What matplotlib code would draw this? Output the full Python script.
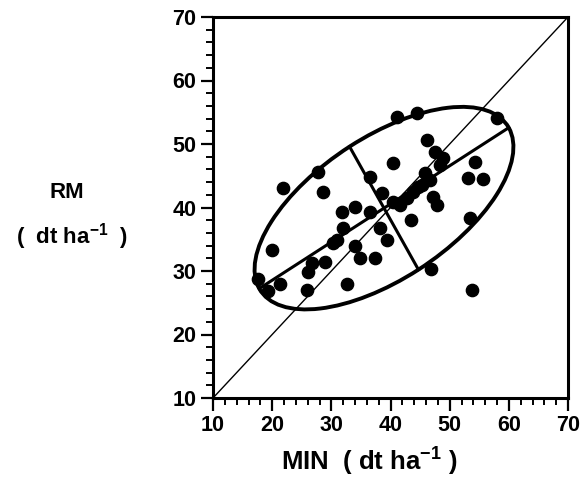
import numpy as np
import matplotlib.pyplot as plt
from matplotlib.patches import Ellipse

plt.rcParams['font.family'] = ['Liberation Sans', 'DejaVu Sans']
plt.rcParams['font.weight'] = 'bold'
plt.rcParams['mathtext.fontset'] = 'custom'
plt.rcParams['mathtext.bf'] = 'Liberation Sans:bold'
plt.rcParams['mathtext.rm'] = 'Liberation Sans:bold'
plt.rcParams['mathtext.default'] = 'bf'

# MIN vs RM yields (dt/ha)
minYield = [41.1, 44.5, 58.0, 46.2, 47.5, 48.9, 40.4, 54.3, 53.1, 55.6,
            27.7, 21.8, 28.6, 36.5, 38.6, 40.4, 42.8, 44.6, 45.8, 46.7,
            47.2, 47.9, 45.3, 34.0, 31.8, 36.5, 43.5, 53.4, 32.0, 38.2,
            39.4, 34.0, 30.3, 34.8, 37.4, 20.0, 17.6, 21.3, 19.3, 25.9,
            26.1, 26.7, 28.9, 32.6, 46.8, 53.8, 41.6, 43.8, 48.4, 31.0]
rmYield = [54.2, 54.9, 54.1, 50.6, 48.7, 47.8, 47.0, 47.2, 44.6, 44.5,
           45.6, 43.1, 42.4, 44.8, 42.3, 40.9, 41.5, 43.2, 45.4, 44.3,
           41.7, 40.4, 43.5, 40.1, 39.3, 39.3, 38.0, 38.3, 36.8, 36.8,
           34.9, 33.9, 34.4, 32.0, 32.0, 33.3, 28.7, 28.0, 26.9, 27.0,
           29.8, 31.3, 31.4, 28.0, 30.3, 27.0, 40.4, 42.4, 46.7, 34.9]

# confidence ellipse (data units)
ellCenter = (38.9, 39.9)
ellA = 24.6   # semi major
ellB = 11.3   # semi minor
ellAngle = 31.0  # degrees

fig = plt.figure(figsize=(5.81, 4.79), dpi=100)
ax = fig.add_axes([213/581, 1-398/479, 355/581, 381/479])

ax.plot([10, 70], [10, 70], color='black', lw=1.0)

e = Ellipse(ellCenter, 2*ellA, 2*ellB, angle=ellAngle, fill=False, ec='black', lw=2.8)
ax.add_patch(e)
th = np.deg2rad(ellAngle)
cx, cy = ellCenter
ax.plot([cx - ellA*np.cos(th), cx + ellA*np.cos(th)],
        [cy - ellA*np.sin(th), cy + ellA*np.sin(th)], color='black', lw=2.2)
ax.plot([cx + ellB*np.sin(th), cx - ellB*np.sin(th)],
        [cy - ellB*np.cos(th), cy + ellB*np.cos(th)], color='black', lw=2.2)

ax.scatter(minYield, rmYield, s=78, color='black', zorder=3)

ax.set_xlim(10, 70)
ax.set_ylim(10, 70)
ax.set_xticks(range(10, 71, 10))
ax.set_yticks(range(10, 71, 10))
ax.set_xticks(np.arange(10, 71, 2), minor=True)
ax.set_yticks(np.arange(10, 71, 2), minor=True)
ax.tick_params(which='major', length=9, width=1.6, labelsize=15.5, pad=3)
ax.tick_params(which='minor', length=5, width=1.4)
for s in ax.spines.values():
    s.set_linewidth(2.2)
for lab in ax.get_xticklabels() + ax.get_yticklabels():
    lab.set_fontweight('bold')

fig.text(369/581, 1-462/479, 'MIN  ( dt ha$^{-1}$ )', ha='center', va='center',
         fontsize=18.5, fontweight='bold')
fig.text(67/581, 1-192/479, 'RM', ha='center', va='center', fontsize=16, fontweight='bold')
fig.text(72/581, 1-237/479, '(  dt ha$^{-1}$  )', ha='center', va='center',
         fontsize=16, fontweight='bold')

fig.savefig('out.png', dpi=100)
